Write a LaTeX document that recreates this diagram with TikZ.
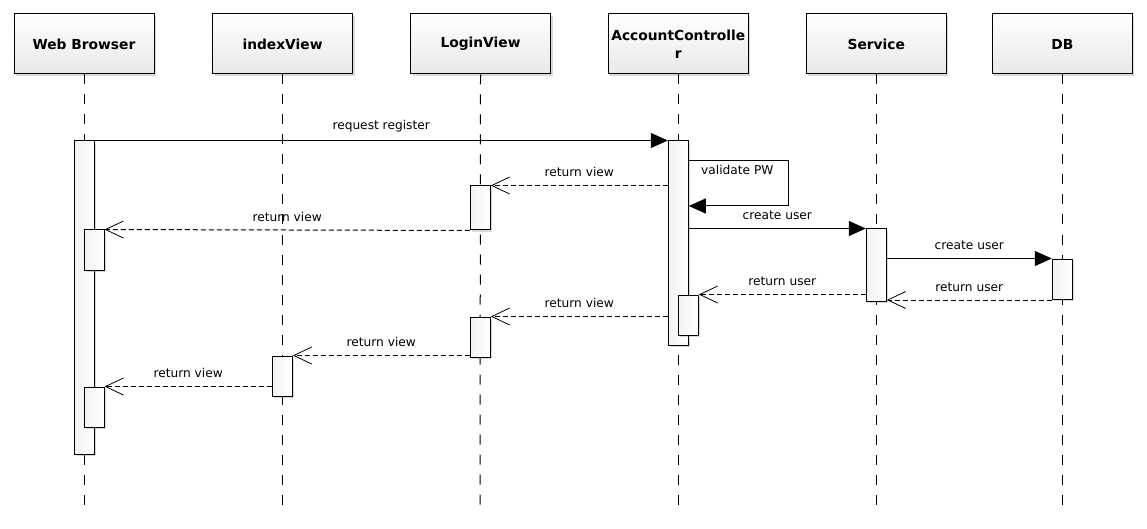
\documentclass[tikz,border=0pt]{standalone}
\usepackage{fontspec}
\setmainfont{DejaVu Sans}
\usetikzlibrary{arrows.meta,shadows}

\tikzset{
  softshadow/.style={drop shadow={shadow xshift=2pt, shadow yshift=-2pt, opacity=0.3, fill=gray}},
  actor/.style={draw=black, line width=1pt, rectangle, minimum width=140pt, minimum height=60pt,
    inner sep=0pt, align=center, top color=white, bottom color=gray!18, softshadow,
    font=\fontsize{13.8}{18}\selectfont\bfseries},
  lifeline/.style={line width=1pt, dash pattern=on 10pt off 10pt},
  bar/.style={draw=black, line width=1pt, rectangle, minimum width=20pt, inner sep=0pt,
    left color=gray!10, right color=white, softshadow},
  call/.style={line width=1pt, -{Triangle[length=17pt,width=15pt]}},
  reply/.style={line width=1pt, dash pattern=on 5pt off 3pt,
    -{Straight Barb[length=18pt,width=17pt,line width=0.8pt]}},
  lbl/.style={font=\fontsize{12.2}{14}\selectfont, above=4.5pt, midway}
}

\begin{document}
\begin{tikzpicture}[x=1pt,y=-1pt]
\useasboundingbox (0,0) rectangle (1147,529);

% participants
\node[actor] (wb) at (84,44) {Web Browser};
\node[actor] (iv) at (282.5,44) {indexView};
\node[actor] (lv) at (480.5,44) {LoginView};
\node[actor] (ac) at (678.3,44) {AccountControlle\\r};
\node[actor] (sv) at (876.3,44) {Service};
\node[actor] (db) at (1062.3,44) {DB};

% lifeline ends
\coordinate (wbEnd) at (84,505);
\coordinate (ivEnd) at (282.5,505);
\coordinate (lvEnd) at (480,505);
\coordinate (acEnd) at (678.3,505);
\coordinate (svEnd) at (876.3,505);
\coordinate (dbEnd) at (1062.3,505);
\foreach \p in {wb,iv,lv,ac,sv,db}
  \draw[lifeline] (\p.south) -- (\p End);

% activation bars
\node[bar, minimum height=313pt] (wb1) at (84,297.5) {};
\node[bar, minimum height=40pt] (wb2) at (94,250) {};
\node[bar, minimum height=40pt] (wb3) at (94,407) {};
\node[bar, minimum height=40pt] (iv1) at (282.3,376) {};
\node[bar, minimum height=44pt] (lv1) at (480.3,208) {};
\node[bar, minimum height=40pt] (lv2) at (480.3,337) {};
\node[bar, minimum height=204pt] (ac1) at (678.3,243) {};
\node[bar, minimum height=40pt] (ac2) at (688.3,315) {};
\node[bar, minimum height=72pt] (sv1) at (876.3,265) {};
\node[bar, minimum height=40pt] (db1) at (1062.3,279) {};

% messages
\draw[call] (wb1.north east) -- (ac1.north west) node[lbl] {request register};
\draw[reply] (ac1.west |- lv1.north) -- (lv1.north east) node[lbl] {return view};

\coordinate (vp1) at (788,161);
\coordinate (vp2) at (788,206);
\draw[call] (ac1.east |- vp1) -- (vp1) -- (vp2) -- (ac1.east |- vp2);
\node[anchor=north west, inner sep=0pt, font=\fontsize{12.2}{14}\selectfont] (vpl) at (701,165) {validate PW};

\draw[reply] (lv1.south west) -- (wb2.north east) node[lbl] {return view};
\draw[call] (ac1.east |- sv1.north) -- (sv1.north west) node[lbl] {create user};
\draw[call] (sv1.east |- db1.north) -- (db1.north west) node[lbl] {create user};
\draw[reply] (db1.west |- 0,300) -- (sv1.east |- 0,300) node[lbl] {return user};
\draw[reply] (sv1.west |- ac2.north) -- (ac2.north east) node[lbl] {return user};
\draw[reply] (ac1.west |- lv2.north) -- (lv2.north east) node[lbl] {return view};
\draw[reply] (lv2.west |- iv1.north) -- (iv1.north east) node[lbl] {return view};
\draw[reply] (iv1.west |- wb3.north) -- (wb3.north east) node[lbl] {return view};
\end{tikzpicture}
\end{document}
